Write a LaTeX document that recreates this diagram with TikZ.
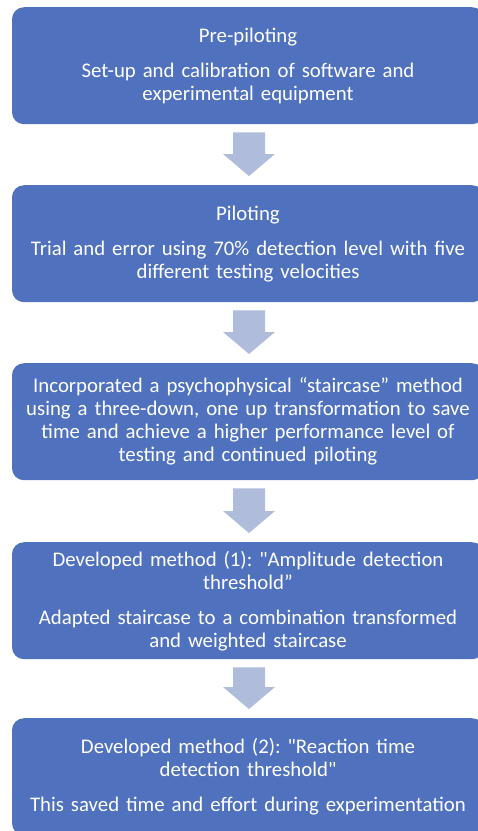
\documentclass[tikz,border=0pt]{standalone}
\usepackage{fontspec}
\setmainfont{Carlito}
\usetikzlibrary{calc}
\definecolor{boxblue}{HTML}{4F71BE}
\definecolor{arrowblue}{HTML}{B0BCDC}
\tikzset{
  stagebox/.style={anchor=north, fill=boxblue, draw=none, rounded corners=12pt,
    text=white, text width=460pt, inner xsep=6pt, inner ysep=0pt,
    minimum height=117pt, align=center,
    font=\fontsize{20.8pt}{23pt}\selectfont},
  blockarrow/.style={fill=arrowblue, draw=none}
}
\newcommand{\flowarrow}[2]{%
  \path[blockarrow] let \p1=(#1.south), \p2=(#2.north) in
    (\x1-15pt,\y1-8pt) -- (\x1+17pt,\y1-8pt) -- (\x1+17pt,\y2+31pt) --
    (\x1+27pt,\y2+31pt) -- (\x1+1pt,\y2+9pt) -- (\x1-25pt,\y2+31pt) --
    (\x1-15pt,\y2+31pt) -- cycle;}
\begin{document}
\frenchspacing
\begin{tikzpicture}[x=1pt,y=1pt]
\useasboundingbox (0,0) rectangle (478,-831);
\clip (0,0) rectangle (478,-831);
\node[stagebox] (b1) at (248,-7) {Pre-piloting\\[12pt]Set-up and calibration of software and\\experimental equipment};
\node[stagebox] (b2) at (248,-185) {Piloting\\[12pt]Trial and error using 70\% detection level with five\\different testing velocities};
\node[stagebox] (b3) at (248,-363) {Incorporated a psychophysical “staircase” method\\using a three-down, one up transformation to save\\time and achieve a higher performance level of\\testing and continued piloting};
\node[stagebox] (b4) at (248,-542) {Developed method (1): \textquotedbl Amplitude detection\\threshold”\\[12pt]Adapted staircase to a combination transformed\\and weighted staircase};
\node[stagebox] (b5) at (248,-718) {Developed method (2): \textquotedbl Reaction time\\detection threshold\textquotedbl\\[12pt]This saved time and effort during experimentation};
\flowarrow{b1}{b2}
\flowarrow{b2}{b3}
\flowarrow{b3}{b4}
\flowarrow{b4}{b5}
\end{tikzpicture}
\end{document}
